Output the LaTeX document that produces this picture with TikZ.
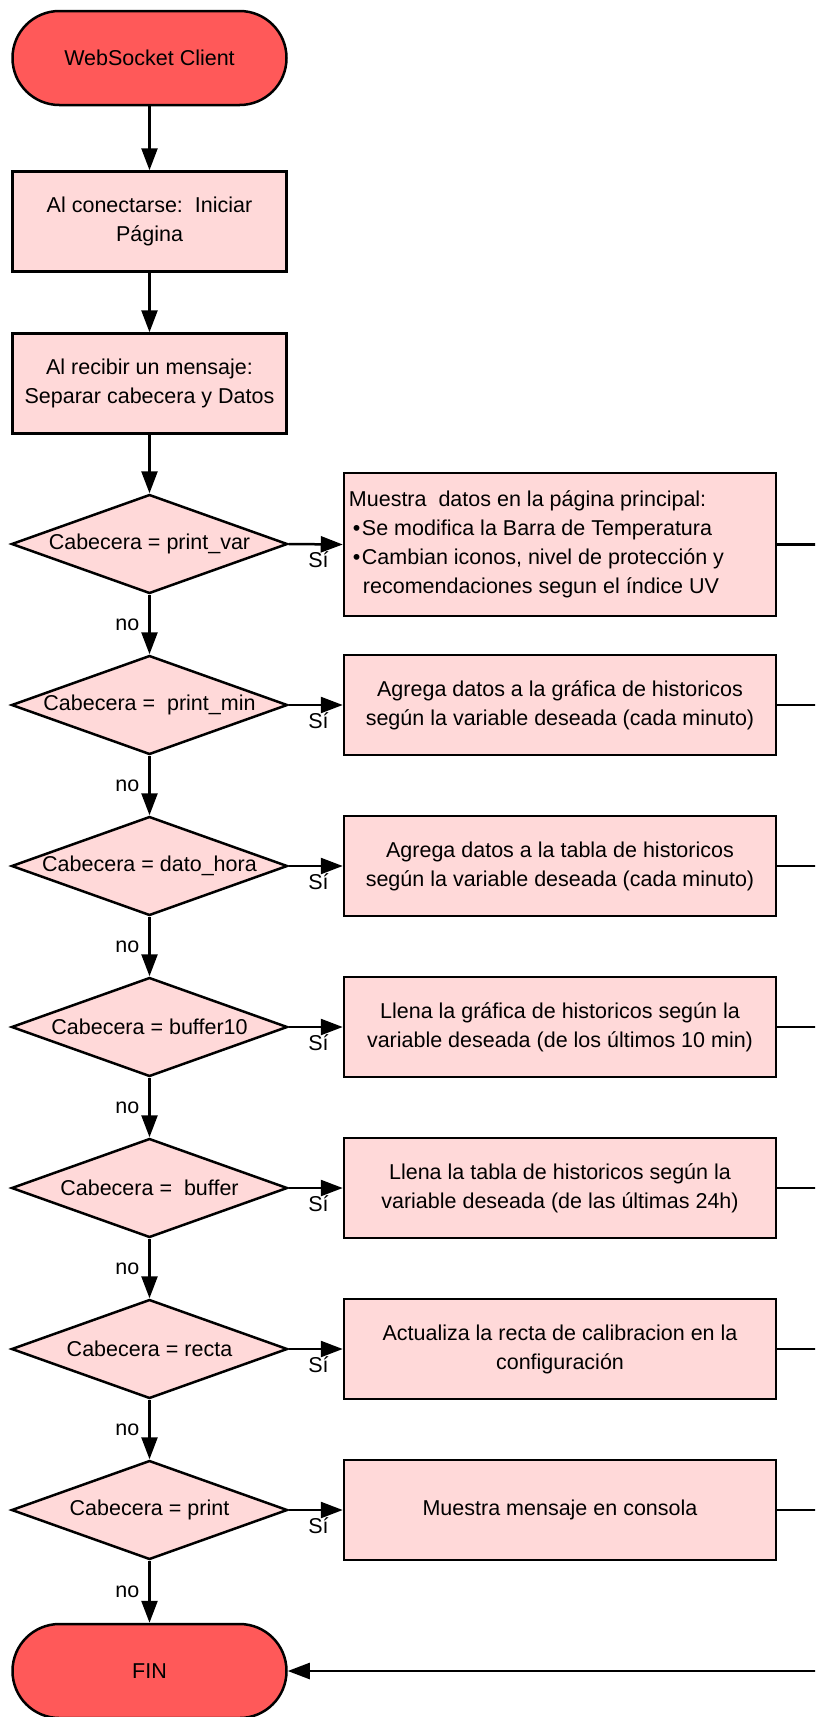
\documentclass[tikz,border=0pt]{standalone}
\usepackage{fontspec}
\setmainfont{Liberation Sans}
\usetikzlibrary{shapes.geometric,arrows.meta}
\definecolor{termred}{RGB}{255,89,89}
\definecolor{boxpink}{RGB}{255,217,217}
\begin{document}
\begin{tikzpicture}[x=1pt,y=-1pt,
  font=\fontsize{21.5}{29}\selectfont,
  term/.style={draw, line width=2.5pt, fill=termred, rounded corners=46.9pt,
    minimum width=274pt, minimum height=94pt, inner sep=0pt},
  proc/.style={draw, line width=2.5pt, fill=boxpink, minimum width=274pt,
    minimum height=100pt, align=center, inner sep=0pt},
  rproc/.style={proc, minimum width=432pt},
  dec/.style={draw, line width=2.5pt, fill=boxpink, diamond,
    minimum width=276pt, minimum height=99pt, inner sep=0pt},
  dtext/.style={inner sep=0pt},
  conn/.style={line width=2.5pt},
  arr/.style={conn, -{Triangle[length=22pt,width=16pt]}},
  nolab/.style={inner sep=0pt, left=9pt},
  silab/.style={inner sep=0pt, below=6pt}
]
\useasboundingbox (0,0) rectangle (815,1717);
\clip (0,0) rectangle (815,1717);

% left column
\node[term] (start) at (149.5,58) {WebSocket Client};
\node[proc] (p1) at (149.5,221.5) {Al conectarse:\ \ Iniciar\\Página};
\node[proc] (p2) at (149.5,383.5) {Al recibir un mensaje:\\Separar cabecera y Datos};

\node[dec] (d1) at (149.5,544) {};
\node[dtext] (d1t) at (d1) {Cabecera = print\_var};
\node[dec] (d2) at (149.5,705) {};
\node[dtext] (d2t) at (d2) {Cabecera =\ \ print\_min};
\node[dec] (d3) at (149.5,866) {};
\node[dtext] (d3t) at (d3) {Cabecera = dato\_hora};
\node[dec] (d4) at (149.5,1027) {};
\node[dtext] (d4t) at (d4) {Cabecera = buffer10};
\node[dec] (d5) at (149.5,1188) {};
\node[dtext] (d5t) at (d5) {Cabecera =\ \ buffer};
\node[dec] (d6) at (149.5,1349) {};
\node[dtext] (d6t) at (d6) {Cabecera = recta};
\node[dec] (d7) at (149.5,1510) {};
\node[dtext] (d7t) at (d7) {Cabecera = print};

\node[term] (fin) at (149.5,1671) {FIN};

% right column
\node[rproc, minimum height=143pt] (r1) at (560,544.5) {};
\node[anchor=west, align=left, inner sep=0pt] (r1t) at ([xshift=6pt]r1.west)
  {Muestra\ \ datos en la página principal:\\
   \hspace*{4pt}\makebox[9pt][l]{•}Se modifica la Barra de Temperatura\\
   \hspace*{4pt}\makebox[9pt][l]{•}Cambian iconos, nivel de protección y\\
   \hspace*{14pt}recomendaciones segun el índice UV};
\node[rproc] (r2) at (560,705) {Agrega datos a la gráfica de historicos\\según la variable deseada (cada minuto)};
\node[rproc] (r3) at (560,866) {Agrega datos a la tabla de historicos\\según la variable deseada (cada minuto)};
\node[rproc] (r4) at (560,1027) {Llena la gráfica de historicos según la\\variable deseada (de los últimos 10 min)};
\node[rproc] (r5) at (560,1188) {Llena la tabla de historicos según la\\variable deseada (de las últimas 24h)};
\node[rproc] (r6) at (560,1349) {Actualiza la recta de calibracion en la\\configuración};
\node[rproc] (r7) at (560,1510) {Muestra mensaje en consola};

% vertical flow
\draw[arr] (start) -- (p1);
\draw[arr] (p1) -- (p2);
\draw[arr] (p2) -- (d1);
\draw[arr] (d1.south) -- node[nolab] {no} (d2.north);
\draw[arr] (d2.south) -- node[nolab] {no} (d3.north);
\draw[arr] (d3.south) -- node[nolab] {no} (d4.north);
\draw[arr] (d4.south) -- node[nolab] {no} (d5.north);
\draw[arr] (d5.south) -- node[nolab] {no} (d6.north);
\draw[arr] (d6.south) -- node[nolab] {no} (d7.north);
\draw[arr] (d7.south) -- node[nolab] {no} (fin.north);

% yes branches
\foreach \i in {1,...,7}{
  \draw[arr] (d\i.east) -- node[silab, pos=0.55] {Sí} (r\i.west);
}

% return bus (runs beyond the right edge)
\coordinate (busbot) at (830,1671);
\foreach \i in {1,...,7}{
  \draw[conn] (r\i.east) -- (r\i.east -| busbot);
}
\draw[conn] (r1.east -| busbot) -- (busbot);
\draw[arr] (busbot) -- (fin.east);
\end{tikzpicture}
\end{document}
